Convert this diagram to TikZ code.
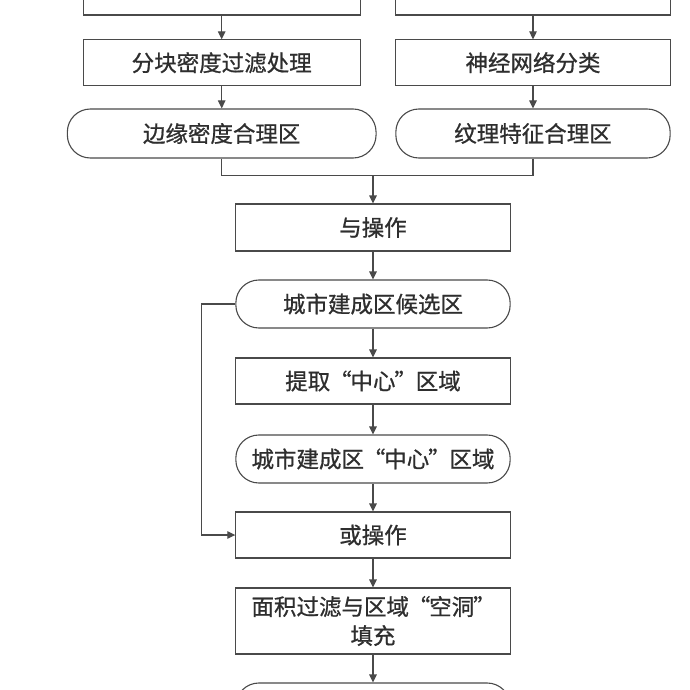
\documentclass[tikz,border=0pt]{standalone}
\usepackage{fontspec}
\newfontfamily\cjk{Noto Sans CJK SC}[FakeBold=0.8]
\usetikzlibrary{arrows.meta}
\definecolor{linec}{HTML}{4A4A4A}
\definecolor{textc}{HTML}{2E2E2E}
\newcommand\qlft{\makebox[0.9em][c]{“}}
\newcommand\qrgt{\makebox[0.9em][c]{”}}
\tikzset{
  box/.style={draw=linec, line width=1.1pt, rectangle, inner sep=0pt,
    minimum width=274.3, minimum height=46, text=textc,
    font=\cjk\fontsize{22.5pt}{29pt}\selectfont, align=center},
  rbox/.style={box, rounded corners=23pt, minimum height=48},
  conn/.style={draw=linec, line width=1.1pt},
  arr/.style={conn, -{Triangle[length=8pt,width=7.5pt]}}
}
\begin{document}
\begin{tikzpicture}[x=1pt,y=-1pt]
\useasboundingbox (0,0) rectangle (690,690);
\fill[white] (0,0) rectangle (690,690);
\clip (0,0) rectangle (690,690);
% top (cut off) boxes
\node[box, minimum width=276.7, minimum height=45] (t1) at (221.7,-7.5) {};
\node[box, minimum height=45] (t2) at (533,-7.5) {};
% second row
\node[box, minimum width=276.7, minimum height=45.5] (a2) at (221.7,62.7) {分块密度过滤处理};
\node[box, minimum height=45.5] (b2) at (533,62.7) {神经网络分类};
% third row
\node[rbox, minimum width=308.7, minimum height=49] (a3) at (221.7,133.5) {边缘密度合理区};
\node[rbox, minimum height=49] (b3) at (533,133.5) {纹理特征合理区};
\coordinate (m) at (373,175.7);
% central column
\node[box, minimum height=47] (c1) at (373,227.5) {与操作};
\node[rbox] (c2) at (373,304) {城市建成区候选区};
\node[box] (c3) at (373,381) {提取\qlft 中心\qrgt 区域};
\node[rbox] (c4) at (373,459) {城市建成区\qlft 中心\qrgt 区域};
\node[box] (c5) at (373,535) {或操作};
\node[box, minimum height=66] (c6) at (373,621) {面积过滤与区域\qlft 空洞\qrgt\\填充};
\node[rbox] (c7) at (373,707) {};
\coordinate (fb) at (201.7,0);
% connectors
\draw[arr] (t1) -- (a2);
\draw[arr] (a2) -- (a3);
\draw[arr] (t2) -- (b2);
\draw[arr] (b2) -- (b3);
\draw[conn] (a3.south) |- (m);
\draw[conn] (b3.south) |- (m);
\draw[arr] (m) -- (c1);
\draw[arr] (c1) -- (c2);
\draw[arr] (c2) -- (c3);
\draw[arr] (c3) -- (c4);
\draw[arr] (c4) -- (c5);
\draw[arr] (c5) -- (c6);
\draw[arr] (c6) -- (c7);
\draw[arr] (c2.west) -- (c2.west -| fb) -- (c5.west -| fb) -- (c5.west);
\end{tikzpicture}
\end{document}
